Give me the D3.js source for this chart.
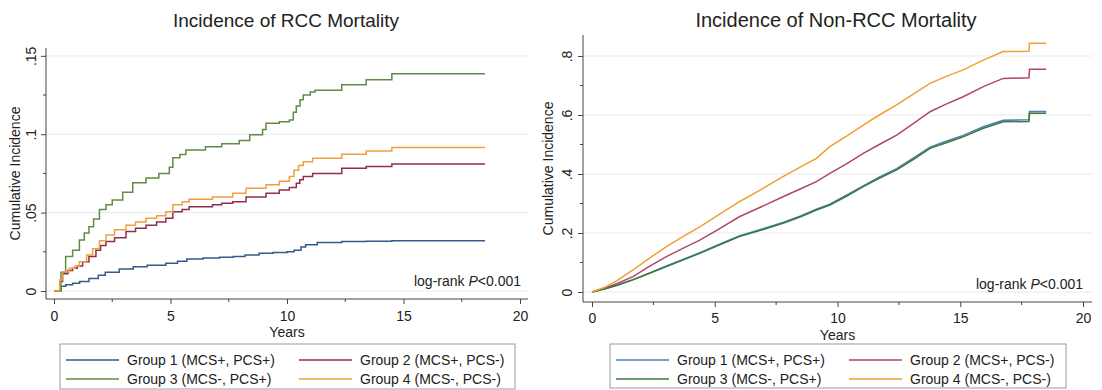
<!DOCTYPE html>
<html>
<head>
<meta charset="utf-8">
<script src="https://cdn.jsdelivr.net/npm/d3@7"></script>
<style>
  body { margin: 0; background: #fff; }
  text { font-family: "Liberation Sans", Arial, sans-serif; fill: #222; }
</style>
</head>
<body>
<div id="chart"></div>
<script>
// ---- dados ----
const groupNames = ["Group 1 (MCS+, PCS+)", "Group 2 (MCS+, PCS-)", "Group 3 (MCS-, PCS+)", "Group 4 (MCS-, PCS-)"];

const xMajor = [0, 5, 10, 15, 20];
const xLabels = ["0", "5", "10", "15", "20"];
const xMinor = [2.5, 7.5, 12.5, 17.5];

const rccYMajor = [0, 0.05, 0.1, 0.15];
const rccYLabels = ["0", ".05", ".1", ".15"];
const rccYMinor = [0.025, 0.075, 0.125];

const nonYMajor = [0, 0.2, 0.4, 0.6, 0.8];
const nonYLabels = ["0", ".2", ".4", ".6", ".8"];
const nonYMinor = [0.1, 0.3, 0.5, 0.7];

// [anos, incidência acumulada]
const rccG1 = [[0,0],[0.15,0],[0.3,0.003],[0.5,0.004],[0.8,0.005],[1.1,0.006],[1.5,0.008],[1.9,0.010],[2.2,0.012],[2.8,0.014],[3.4,0.0155],[4.0,0.0165],[4.8,0.0177],[5.3,0.019],[5.7,0.0204],[6.4,0.021],[7.1,0.0215],[7.7,0.022],[8.2,0.023],[8.8,0.024],[9.4,0.0245],[10.0,0.025],[10.3,0.026],[10.6,0.028],[10.8,0.0295],[11.3,0.031],[12.35,0.0315],[13.4,0.0318],[14.5,0.032],[18.5,0.032]];
const rccG2 = [[0,0],[0.15,0],[0.25,0.006],[0.37,0.011],[0.6,0.013],[0.8,0.0145],[1.0,0.016],[1.23,0.0187],[1.5,0.022],[1.8,0.026],[2.0,0.029],[2.23,0.0315],[2.6,0.034],[3.09,0.038],[3.5,0.040],[3.95,0.042],[4.4,0.044],[4.8,0.0464],[5.1,0.0506],[5.5,0.052],[5.8,0.0538],[6.8,0.055],[7.2,0.056],[7.67,0.057],[8.24,0.060],[9.1,0.0623],[9.67,0.0645],[10.1,0.066],[10.4,0.0687],[10.55,0.071],[10.7,0.073],[11.1,0.075],[12.35,0.0783],[13.4,0.0794],[14.5,0.081],[18.5,0.081]];
const rccG3 = [[0,0],[0.15,0],[0.3,0.012],[0.5,0.022],[0.8,0.026],[1.09,0.0326],[1.3,0.037],[1.5,0.041],[1.7,0.046],[1.95,0.052],[2.23,0.055],[2.5,0.058],[2.95,0.063],[3.38,0.069],[3.95,0.072],[4.5,0.075],[4.95,0.079],[5.1,0.085],[5.4,0.087],[5.66,0.090],[6.5,0.092],[7.2,0.094],[7.95,0.096],[8.4,0.0996],[8.95,0.103],[9.1,0.107],[9.67,0.108],[10.1,0.109],[10.27,0.114],[10.4,0.118],[10.56,0.122],[10.7,0.125],[11.0,0.127],[11.2,0.128],[12.35,0.1315],[13.4,0.1347],[14.5,0.1385],[18.5,0.1385]];
const rccG4 = [[0,0],[0.15,0],[0.25,0.007],[0.37,0.0123],[0.66,0.0145],[0.9,0.016],[1.09,0.0187],[1.4,0.023],[1.66,0.027],[1.95,0.032],[2.23,0.0357],[2.6,0.039],[3.09,0.042],[3.5,0.044],[3.95,0.0464],[4.4,0.048],[4.8,0.0506],[5.1,0.055],[5.5,0.057],[5.8,0.0585],[6.8,0.060],[7.67,0.0623],[8.24,0.0655],[9.1,0.0677],[9.67,0.070],[10.1,0.073],[10.3,0.077],[10.5,0.080],[10.7,0.0825],[11.1,0.0847],[12.35,0.0872],[13.4,0.0893],[14.5,0.0915],[18.5,0.0915]];

const nonG1 = [[0,0],[0.5,0.01],[1.0,0.023],[1.67,0.042],[2.3,0.063],[3.03,0.088],[3.7,0.110],[4.39,0.133],[5.2,0.162],[6.0,0.19],[6.9,0.213],[7.78,0.236],[8.5,0.258],[9.14,0.281],[9.69,0.298],[10.4,0.33],[11.05,0.36],[11.7,0.389],[12.41,0.418],[13.1,0.455],[13.77,0.491],[14.4,0.51],[15.12,0.531],[15.94,0.56],[16.75,0.582],[17.8,0.584],[17.82,0.612],[18.5,0.612]];
const nonG2 = [[0,0],[0.5,0.012],[1.0,0.028],[1.67,0.052],[2.3,0.085],[3.03,0.12],[3.7,0.148],[4.39,0.176],[5.2,0.215],[6.0,0.255],[6.9,0.289],[7.78,0.323],[8.5,0.35],[9.14,0.374],[9.69,0.402],[10.4,0.436],[11.05,0.47],[11.7,0.50],[12.41,0.532],[13.1,0.572],[13.77,0.611],[14.4,0.636],[15.12,0.662],[15.94,0.696],[16.75,0.724],[17.8,0.726],[17.82,0.755],[18.5,0.755]];
const nonG3 = [[0,0],[0.5,0.01],[1.0,0.022],[1.67,0.041],[2.3,0.062],[3.03,0.086],[3.7,0.108],[4.39,0.131],[5.2,0.16],[6.0,0.188],[6.9,0.21],[7.78,0.233],[8.5,0.255],[9.14,0.278],[9.69,0.295],[10.4,0.326],[11.05,0.357],[11.7,0.385],[12.41,0.414],[13.1,0.45],[13.77,0.487],[14.4,0.505],[15.12,0.526],[15.94,0.555],[16.75,0.577],[17.8,0.578],[17.82,0.606],[18.5,0.606]];
const nonG4 = [[0,0],[0.5,0.015],[1.0,0.038],[1.67,0.0746],[2.3,0.112],[3.03,0.154],[3.7,0.188],[4.39,0.221],[5.2,0.264],[6.0,0.306],[6.9,0.348],[7.78,0.391],[8.5,0.424],[9.14,0.453],[9.69,0.4926],[10.4,0.53],[11.05,0.566],[11.7,0.60],[12.41,0.634],[13.1,0.672],[13.77,0.707],[14.4,0.73],[15.12,0.753],[15.94,0.786],[16.75,0.815],[17.8,0.816],[17.82,0.843],[18.5,0.843]];

const svg = d3.select("#chart")
  .append("svg")
    .attr("width", 1102)
    .attr("height", 390);

// Desenha um painel (eixos, grade, curvas, legenda)
function renderizarPainel(p) {
  const g = svg.append("g");

  const x = d3.scaleLinear().domain([0, 20]).range(p.xRange);
  const y = d3.scaleLinear().domain(p.yDomain).range(p.yRange);

  // grade horizontal
  g.selectAll(".grid")
    .data(p.yMajor)
    .join("line")
      .attr("x1", p.frame.left)
      .attr("x2", p.frame.right)
      .attr("y1", d => y(d))
      .attr("y2", d => y(d))
      .attr("stroke", "#e7eaec")
      .attr("stroke-width", 1);

  // título
  g.append("text")
    .attr("x", p.titleX)
    .attr("y", 27)
    .attr("text-anchor", "middle")
    .style("font-size", p.titleSize + "px")
    .text(p.title);

  // eixo X
  const xAxis = g.append("g")
    .attr("transform", `translate(0,${p.frame.bottom})`)
    .call(d3.axisBottom(x).tickValues(xMajor).tickFormat((d, i) => xLabels[i]).tickSize(5).tickSizeOuter(0));
  xAxis.select(".domain").remove();
  xAxis.selectAll("text").attr("y", p.xLabelY).attr("dy", "0").style("font-size", "14px").style("fill", "#222");
  xAxis.selectAll("line").attr("stroke", "#444");
  g.selectAll(".xminor")
    .data(xMinor)
    .join("line")
      .attr("x1", d => x(d)).attr("x2", d => x(d))
      .attr("y1", p.frame.bottom).attr("y2", p.frame.bottom + 3)
      .attr("stroke", "#444");

  // eixo Y
  const yAxis = g.append("g")
    .attr("transform", `translate(${p.frame.left},0)`)
    .call(d3.axisLeft(y).tickValues(p.yMajor).tickFormat((d, i) => p.yLabels[i]).tickSize(5));
  yAxis.select(".domain").remove();
  yAxis.selectAll("line").attr("stroke", "#444");
  yAxis.selectAll("text")
    .attr("transform", "rotate(-90)")
    .attr("x", 0)
    .attr("y", p.yLabelOffset)
    .attr("dy", "0")
    .attr("text-anchor", "middle")
    .style("font-size", "14px")
    .style("fill", "#222");
  g.selectAll(".yminor")
    .data(p.yMinor)
    .join("line")
      .attr("x1", p.frame.left - 3).attr("x2", p.frame.left)
      .attr("y1", d => y(d)).attr("y2", d => y(d))
      .attr("stroke", "#444");

  // linhas dos eixos
  g.append("line")
    .attr("x1", p.frame.left).attr("x2", p.frame.right)
    .attr("y1", p.frame.bottom).attr("y2", p.frame.bottom)
    .attr("stroke", "#444");
  g.append("line")
    .attr("x1", p.frame.left).attr("x2", p.frame.left)
    .attr("y1", p.frame.top).attr("y2", p.frame.bottom)
    .attr("stroke", "#444");

  // títulos dos eixos
  g.append("text")
    .attr("x", (p.frame.left + p.frame.right) / 2)
    .attr("y", p.frame.bottom + 37.5)
    .attr("text-anchor", "middle")
    .style("font-size", "14px")
    .text("Years");

  g.append("text")
    .attr("transform", `translate(${p.yTitleX},${(p.frame.top + p.frame.bottom) / 2}) rotate(-90)`)
    .attr("text-anchor", "middle")
    .style("font-size", "14px")
    .text("Cumulative Incidence");

  // curvas
  const line = d3.line()
    .x(d => x(d[0]))
    .y(d => y(d[1]))
    .curve(p.curve);

  g.selectAll(".curve")
    .data(p.series)
    .join("path")
      .attr("class", "curve")
      .attr("fill", "none")
      .attr("stroke", (d, i) => p.colors[i])
      .attr("stroke-width", 1.5)
      .attr("d", d => line(d));

  // log-rank
  const lr = g.append("text")
    .attr("x", p.logRankX)
    .attr("y", p.logRankY)
    .attr("text-anchor", "end")
    .style("font-size", "14px");
  lr.append("tspan").text("log-rank ");
  lr.append("tspan").style("font-style", "italic").text("P");
  lr.append("tspan").text("<0.001");

  // legenda
  const leg = g.append("g").attr("transform", `translate(${p.legend.x},${p.legend.y})`);
  leg.append("rect")
    .attr("width", p.legend.w)
    .attr("height", p.legend.h)
    .attr("fill", "#fff")
    .attr("stroke", "#9a9a9a");

  const itens = leg.selectAll(".item")
    .data(groupNames)
    .join("g")
      .attr("class", "item")
      .attr("transform", (d, i) => `translate(${i % 2 === 0 ? 6 : 239},${i < 2 ? 16 : 35})`);

  itens.append("line")
    .attr("x1", 0).attr("x2", 53)
    .attr("stroke", (d, i) => p.colors[i])
    .attr("stroke-width", 1.5);

  itens.append("text")
    .attr("x", 61)
    .attr("y", 5)
    .style("font-size", "14px")
    .text(d => d);
}

renderizarPainel({
  title: "Incidence of RCC Mortality",
  titleX: 286, titleSize: 19,
  frame: { left: 46, right: 528, top: 48, bottom: 299 },
  xRange: [54, 520],
  yDomain: [0, 0.155], yRange: [291, 48],
  yMajor: rccYMajor, yLabels: rccYLabels, yMinor: rccYMinor,
  xLabelY: 22, yLabelOffset: -10, yTitleX: 20,
  series: [rccG1, rccG2, rccG3, rccG4],
  colors: ["#2f5d8a", "#8f2f4c", "#5f8b45", "#f0a040"],
  curve: d3.curveStepAfter,
  logRankX: 521, logRankY: 286,
  legend: { x: 60, y: 344, w: 455, h: 45 }
});

renderizarPainel({
  title: "Incidence of Non-RCC Mortality",
  titleX: 836, titleSize: 20,
  frame: { left: 583, right: 1092, top: 35, bottom: 302 },
  xRange: [592, 1083],
  yDomain: [0, 0.8], yRange: [292, 56],
  yMajor: nonYMajor, yLabels: nonYLabels, yMinor: nonYMinor,
  xLabelY: 21, yLabelOffset: -11, yTitleX: 553,
  series: [nonG1, nonG2, nonG3, nonG4],
  colors: ["#4a7fb8", "#b0456a", "#3c7a3c", "#f0a030"],
  curve: d3.curveLinear,
  logRankX: 1083, logRankY: 289,
  legend: { x: 610, y: 344, w: 456, h: 44 }
});
</script>
</body>
</html>
